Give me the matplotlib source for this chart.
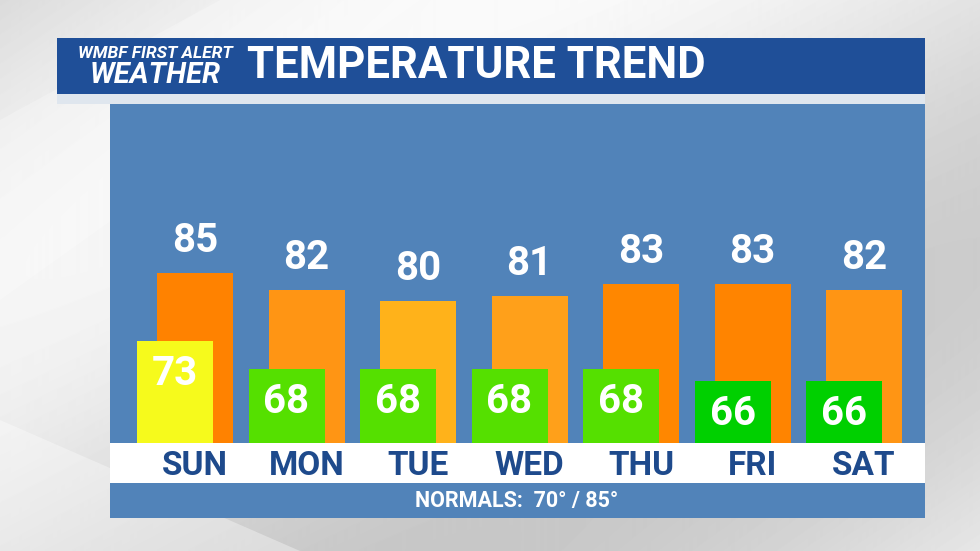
import numpy as np
import matplotlib.pyplot as plt
from matplotlib.patches import Rectangle, Polygon

days = ['SUN', 'MON', 'TUE', 'WED', 'THU', 'FRI', 'SAT']
highs = [85, 82, 80, 81, 83, 83, 82]
lows = [73, 68, 68, 68, 68, 66, 66]
high_colors = ['#ff8200', '#ff9514', '#ffb21a', '#ffa01a', '#ff8700', '#ff8400', '#ff9514']
low_colors = ['#f6fa1c', '#55e000', '#55e000', '#55e000', '#55e000', '#00d000', '#00d000']
title = 'TEMPERATURE TREND'
normals = 'NORMALS:  70° / 85°'

W, H = 980, 551
fig = plt.figure(figsize=(W / 100, H / 100), dpi=100)

# background
bg = fig.add_axes([0, 0, 1, 1])
bg.set_xlim(0, W)
bg.set_ylim(H, 0)
bg.axis('off')
yy, xx = np.mgrid[0:H, 0:W]
grad = 0.86 + 0.10 * np.sin((xx * 0.6 + yy) / 180.0) + 0.04 * (xx / W)
bg.imshow(np.clip(grad, 0, 1), cmap='gray', vmin=0, vmax=1, extent=[0, W, H, 0], aspect='auto')
bg.add_patch(Polygon([[0, 120], [220, 0], [420, 0], [0, 300]], color='white', alpha=0.25, lw=0))
bg.add_patch(Polygon([[0, 420], [300, 551], [0, 551]], color='white', alpha=0.35, lw=0))

# header
bg.add_patch(Rectangle((57, 38), 868, 56, color='#1f4f98', lw=0))
bg.add_patch(Rectangle((57, 94), 868, 10, color='#dfe6ee', lw=0))
bg.text(155, 53, 'WMBF FIRST ALERT', color='white', fontsize=12.5, fontweight='bold',
        style='italic', ha='center', va='center', family='Roboto')
bg.text(155, 75, 'WEATHER', color='white', fontsize=21, fontweight='bold',
        style='italic', ha='center', va='center', family='Roboto')
bg.text(247, 66, title, color='white', fontsize=31.5, fontweight='bold',
        ha='left', va='center', family='Roboto')

# panel
bg.add_patch(Rectangle((110, 104), 815, 414, color='#5183b9', lw=0))
bg.add_patch(Rectangle((110, 443), 815, 40, color='white', lw=0))
bg.text(517, 501, normals, color='white', fontsize=15.5, fontweight='bold',
        ha='center', va='center', family='Roboto')

# bars
ax = fig.add_axes([110 / W, 1 - 443 / H, 815 / W, 339 / H])
ax.patch.set_alpha(0)
ax.axis('off')
step = 111.5
base = 55
ax.set_xlim(-85 / step, 6 + 61 / step)
ax.set_ylim(base, base + 339 / 5.67)
x = np.arange(len(days))
w = 76 / step
off = 20 / step
ax.bar(x, np.array(highs) - base, bottom=base, width=w, color=high_colors)
ax.bar(x - off, np.array(lows) - base, bottom=base, width=w, color=low_colors)
for i in range(len(days)):
    ax.text(x[i], highs[i] + 5.6, str(highs[i]), color='white', fontsize=29, fontweight='bold',
            ha='center', va='center', family='Roboto')
    ax.text(x[i] - off, lows[i] - 5.8, str(lows[i]), color='white', fontsize=29, fontweight='bold',
            ha='center', va='center', family='Roboto')
    ax.text(x[i], base - 23 / 5.67, days[i], color='#1e4a8c', fontsize=24,
            fontweight='bold', ha='center', va='center', family='Roboto', clip_on=False)

fig.savefig('out.png', dpi=100)
